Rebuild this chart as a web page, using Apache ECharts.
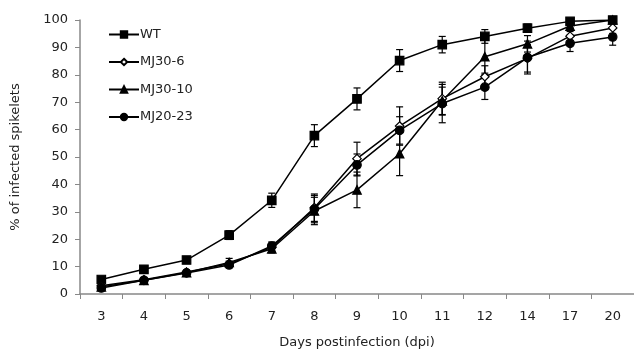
<!DOCTYPE html>
<html>
<head>
<meta charset="utf-8">
<script src="https://cdn.jsdelivr.net/npm/echarts@6/dist/echarts.min.js"></script>
<style>
  html, body { margin: 0; padding: 0; background: #fff; }
  #main { width: 634px; height: 354px; }
</style>
</head>
<body>
<div id="main"></div>
<script>
// days postinfection
var days = ['3', '4', '5', '6', '7', '8', '9', '10', '11', '12', '14', '17', '20'];
var yTicks = [0, 10, 20, 30, 40, 50, 60, 70, 80, 90, 100];

// % of infected spikelets
var wt      = [5.3, 9.0, 12.4, 21.5, 34.2, 57.8, 71.2, 85.2, 91.0, 94.0, 97.0, 99.5, 100];
var mj30_6  = [3.0, 5.2, 8.0, 11.0, 17.0, 31.5, 49.4, 61.3, 71.3, 79.3, 86.0, 94.1, 97.1];
var mj30_10 = [2.6, 5.0, 7.8, 11.5, 16.5, 30.3, 38.0, 51.2, 70.5, 86.6, 91.3, 97.8, 100];
var mj20_23 = [2.2, 5.0, 7.7, 10.6, 17.5, 31.0, 47.1, 59.7, 69.5, 75.5, 86.3, 91.5, 93.8];

// standard errors
var wtErr      = [0.8, 0.8, 0.8, 1.6, 2.6, 4.0, 4.0, 4.0, 3.0, 2.5, 1.5, 1.0, 0.5];
var mj30_6Err  = [0.5, 0.5, 0.7, 1.0, 1.5, 5.0, 6.0, 7.0, 6.0, 4.0, 5.0, 3.0, 2.0];
var mj30_10Err = [0.5, 0.5, 0.7, 1.5, 1.5, 5.0, 6.5, 8.0, 5.0, 6.0, 3.0, 2.0, 0.5];
var mj20_23Err = [0.5, 0.5, 0.7, 1.0, 1.5, 5.0, 4.0, 5.0, 7.0, 4.5, 6.0, 3.0, 3.0];

var myChart = echarts.init(document.getElementById('main'));

var errData = function (vals, errs) {
    var out = [];
    for (var i = 0; i < vals.length; i++) {
        out.push([i, vals[i] - errs[i], vals[i] + errs[i]]);
    }
    return out;
};

var renderErr = function (params, api) {
    var x = api.value(0);
    var lo = api.coord([x, api.value(1)]);
    var hi = api.coord([x, api.value(2)]);
    var w = 3.5;
    var st = { stroke: '#000', lineWidth: 1.2 };
    return {
        type: 'group',
        children: [
            { type: 'line', shape: { x1: lo[0], y1: lo[1], x2: hi[0], y2: hi[1] }, style: st },
            { type: 'line', shape: { x1: lo[0] - w, y1: lo[1], x2: lo[0] + w, y2: lo[1] }, style: st },
            { type: 'line', shape: { x1: hi[0] - w, y1: hi[1], x2: hi[0] + w, y2: hi[1] }, style: st }
        ]
    };
};

var lineSeries = function (name, data, symbol, size, fill) {
    return {
        name: name,
        type: 'line',
        data: data,
        symbol: symbol,
        symbolSize: size,
        showAllSymbol: true,
        z: 3,
        lineStyle: { color: '#000', width: 1.5 },
        itemStyle: { color: fill, borderColor: '#000', borderWidth: 1.2 }
    };
};

var errSeries = function (vals, errs) {
    return {
        type: 'custom',
        data: errData(vals, errs),
        renderItem: renderErr,
        silent: true,
        z: 2
    };
};

var font = 'DejaVu Sans';

var option = {
    animation: false,
    textStyle: { fontFamily: font },
    grid: { left: 80, right: -9, top: 20, bottom: 59 },
    legend: {
        data: ['WT', 'MJ30-6', 'MJ30-10', 'MJ20-23'],
        orient: 'vertical',
        left: 103,
        top: 23,
        itemGap: 14.5,
        itemWidth: 30,
        itemHeight: 8,
        textStyle: { fontFamily: font, fontSize: 13, color: '#222', padding: [0, 0, 0, -4] }
    },
    xAxis: {
        type: 'category',
        data: days,
        boundaryGap: true,
        name: 'Days postinfection (dpi)',
        nameLocation: 'middle',
        nameGap: 42,
        nameTextStyle: { fontFamily: font, fontSize: 13, color: '#222' },
        axisLine: { lineStyle: { color: '#888', width: 1.5 } },
        axisTick: { show: true, length: 5, lineStyle: { color: '#888' } },
        axisLabel: { fontFamily: font, fontSize: 13, color: '#222', margin: 16 }
    },
    yAxis: {
        type: 'value',
        min: yTicks[0],
        max: yTicks[yTicks.length - 1],
        interval: 10,
        name: '% of infected spikelets',
        nameLocation: 'middle',
        nameGap: 58,
        nameTextStyle: { fontFamily: font, fontSize: 13, color: '#222' },
        splitLine: { show: false },
        axisLine: { show: true, lineStyle: { color: '#888', width: 1.5 } },
        axisTick: { show: true, length: 5, lineStyle: { color: '#888' } },
        axisLabel: { fontFamily: font, fontSize: 13, color: '#222', margin: 12 }
    },
    series: [
        errSeries(wt, wtErr),
        errSeries(mj30_6, mj30_6Err),
        errSeries(mj30_10, mj30_10Err),
        errSeries(mj20_23, mj20_23Err),
        lineSeries('WT', wt, 'rect', 8.5, '#000'),
        lineSeries('MJ30-6', mj30_6, 'diamond', 8.5, '#fff'),
        lineSeries('MJ30-10', mj30_10, 'triangle', 8.5, '#000'),
        lineSeries('MJ20-23', mj20_23, 'circle', 8.5, '#000')
    ]
};

myChart.setOption(option);
</script>
</body>
</html>
